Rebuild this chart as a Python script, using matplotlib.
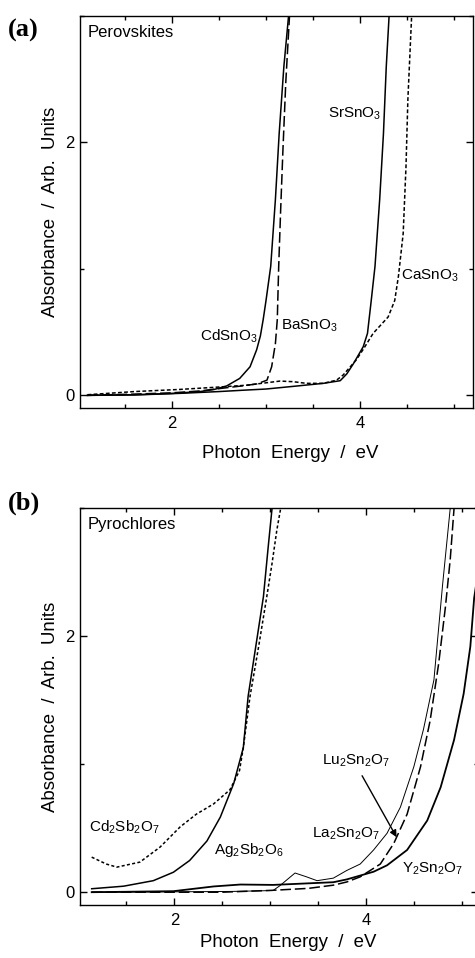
import matplotlib
matplotlib.use('Agg')
import matplotlib.pyplot as plt
from matplotlib.ticker import MultipleLocator

plt.rcParams['font.family'] = ['Liberation Sans', 'DejaVu Sans']
plt.rcParams['mathtext.fontset'] = 'custom'
plt.rcParams['mathtext.rm'] = 'Liberation Sans'
plt.rcParams['mathtext.it'] = 'Liberation Sans:italic'
plt.rcParams['mathtext.bf'] = 'Liberation Sans:bold'

# === (a) Perovskites: photon energy (eV) / absorbance ===
cdsno3_x = [1.1, 1.6, 2.0, 2.3, 2.45, 2.58, 2.72, 2.83, 2.90, 2.94, 2.97, 3.0, 3.05, 3.10, 3.14, 3.19, 3.24]
cdsno3_y = [0.0, 0.005, 0.015, 0.03, 0.047, 0.074, 0.134, 0.226, 0.36, 0.47, 0.6, 0.75, 1.02, 1.55, 2.07, 2.6, 3.0]

basno3_x = [1.1, 1.6, 2.0, 2.3, 2.61, 2.75, 2.90, 3.01, 3.06, 3.10, 3.12, 3.135, 3.155, 3.18, 3.21, 3.25]
basno3_y = [0.0, 0.01, 0.02, 0.035, 0.063, 0.075, 0.09, 0.12, 0.226, 0.41, 0.6, 1.02, 1.45, 1.94, 2.47, 3.0]

srsno3_x = [1.1, 1.6, 2.085, 2.5, 2.79, 3.0, 3.33, 3.61, 3.79, 3.86, 3.93, 4.035, 4.08, 4.12, 4.16, 4.21, 4.25, 4.28, 4.31]
srsno3_y = [0.0, 0.003, 0.016, 0.03, 0.042, 0.05, 0.074, 0.095, 0.116, 0.17, 0.25, 0.385, 0.49, 0.75, 1.02, 1.55, 2.07, 2.6, 3.0]

casno3_x = [1.1, 1.6, 2.085, 2.44, 2.79, 3.15, 3.29, 3.43, 3.61, 3.75, 3.82, 3.96, 4.04, 4.14, 4.30, 4.37, 4.41, 4.46, 4.49, 4.51, 4.55]
casno3_y = [0.005, 0.03, 0.047, 0.063, 0.08, 0.113, 0.108, 0.095, 0.095, 0.12, 0.16, 0.28, 0.37, 0.49, 0.62, 0.75, 0.945, 1.28, 1.81, 2.34, 3.0]

# === (b) Pyrochlores ===
cd2sb2o7_x = [1.137, 1.29, 1.40, 1.64, 1.85, 2.06, 2.23, 2.41, 2.58, 2.68, 2.72, 2.79, 2.88, 2.965, 3.02, 3.07, 3.11]
cd2sb2o7_y = [0.274, 0.22, 0.196, 0.235, 0.352, 0.51, 0.61, 0.69, 0.80, 0.95, 1.13, 1.53, 1.92, 2.31, 2.57, 2.83, 3.0]

ag2sb2o6_x = [1.137, 1.47, 1.78, 1.99, 2.16, 2.34, 2.48, 2.62, 2.72, 2.77, 2.85, 2.93, 2.98, 3.02]
ag2sb2o6_y = [0.027, 0.047, 0.09, 0.156, 0.248, 0.40, 0.587, 0.85, 1.13, 1.53, 1.92, 2.31, 2.7, 3.0]

la2sn2o7_x = [1.137, 2.0, 2.6, 3.03, 3.1, 3.26, 3.38, 3.49, 3.66, 3.80, 3.94, 4.08, 4.22, 4.36, 4.50, 4.60, 4.71, 4.80, 4.88]
la2sn2o7_y = [0.0, 0.003, 0.006, 0.013, 0.05, 0.15, 0.12, 0.09, 0.11, 0.17, 0.22, 0.33, 0.46, 0.665, 0.98, 1.27, 1.66, 2.4, 3.0]

lu2sn2o7_x = [1.137, 2.0, 2.5, 3.03, 3.4, 3.66, 3.8, 3.94, 4.15, 4.29, 4.43, 4.57, 4.67, 4.76, 4.83, 4.88, 4.92]
lu2sn2o7_y = [0.0, 0.0, 0.0, 0.015, 0.03, 0.055, 0.08, 0.12, 0.22, 0.38, 0.61, 0.98, 1.34, 1.79, 2.23, 2.6, 3.0]

y2sn2o7_x = [1.137, 1.99, 2.41, 2.69, 3.03, 3.66, 3.8, 3.94, 4.08, 4.22, 4.43, 4.64, 4.78, 4.92, 5.02, 5.09, 5.13, 5.17]
y2sn2o7_y = [0.0, 0.008, 0.045, 0.06, 0.057, 0.078, 0.1, 0.13, 0.16, 0.21, 0.33, 0.56, 0.82, 1.19, 1.55, 1.92, 2.3, 2.5]

W, H = 475, 958
fig = plt.figure(figsize=(W / 100, H / 100), dpi=100)
ax1 = fig.add_axes([80 / W, 1 - 408 / H, 392.7 / W, 392 / H])
ax2 = fig.add_axes([80 / W, 1 - 905 / H, 398 / W, 396.7 / H])

lw = 1.1
ax1.plot(cdsno3_x, cdsno3_y, 'k-', lw=lw)
ax1.plot(basno3_x, basno3_y, 'k-', lw=lw, dashes=(7, 2.5))
ax1.plot(srsno3_x, srsno3_y, 'k-', lw=lw)
ax1.plot(casno3_x, casno3_y, 'k-', lw=lw, dashes=(2.5, 1.5))

ax2.plot(cd2sb2o7_x, cd2sb2o7_y, 'k-', lw=lw, dashes=(2, 1.5))
ax2.plot(ag2sb2o6_x, ag2sb2o6_y, 'k-', lw=lw)
ax2.plot(la2sn2o7_x, la2sn2o7_y, 'k-', lw=0.7)
ax2.plot(lu2sn2o7_x, lu2sn2o7_y, 'k-', lw=lw, dashes=(7, 2.5))
ax2.plot(y2sn2o7_x, y2sn2o7_y, 'k-', lw=1.3)

fs = 11
ax1.text(3.66, 2.23, r'$\mathrm{SrSnO_3}$', fontsize=fs, va='center')
ax1.text(4.44, 0.945, r'$\mathrm{CaSnO_3}$', fontsize=fs, va='center')
ax1.text(2.30, 0.464, r'$\mathrm{CdSnO_3}$', fontsize=fs, va='center')
ax1.text(3.16, 0.55, r'$\mathrm{BaSnO_3}$', fontsize=fs, va='center')
ax1.text(0.02, 0.957, 'Perovskites', fontsize=12, va='center', transform=ax1.transAxes)

ax2.text(1.11, 0.51, r'$\mathrm{Cd_2Sb_2O_7}$', fontsize=fs, va='center')
ax2.text(2.41, 0.326, r'$\mathrm{Ag_2Sb_2O_6}$', fontsize=fs, va='center')
ax2.text(3.54, 1.03, r'$\mathrm{Lu_2Sn_2O_7}$', fontsize=fs, va='center')
ax2.text(3.435, 0.46, r'$\mathrm{La_2Sn_2O_7}$', fontsize=fs, va='center')
ax2.text(4.376, 0.18, r'$\mathrm{Y_2Sn_2O_7}$', fontsize=fs, va='center')
ax2.text(0.02, 0.958, 'Pyrochlores', fontsize=12, va='center', transform=ax2.transAxes)
ax2.annotate('', xy=(4.32, 0.43), xytext=(3.96, 0.91),
             arrowprops=dict(arrowstyle='-|>', color='k', lw=1.0,
                             mutation_scale=10, shrinkA=0, shrinkB=0))

for ax, xl, xlc, xly in [(ax1, (1.02, 5.2), 0.535, -0.094), (ax2, (1.015, 5.17), 0.523, -0.074)]:
    ax.set_xlim(*xl)
    ax.set_ylim(-0.1, 3.0)
    ax.xaxis.set_major_locator(MultipleLocator(2))
    ax.xaxis.set_minor_locator(MultipleLocator(0.5))
    ax.yaxis.set_major_locator(MultipleLocator(2))
    ax.yaxis.set_minor_locator(MultipleLocator(1))
    ax.tick_params(which='both', direction='in', top=True, right=True, width=1, labelsize=12)
    ax.tick_params(which='major', length=4.8)
    ax.tick_params(which='minor', length=2.6)
    ax.tick_params(axis='x', pad=6)
    ax.tick_params(axis='y', pad=4)
    for s in ax.spines.values():
        s.set_linewidth(1.0)
    ax.set_xlabel('Photon  Energy  /  eV', fontsize=13.4)
    ax.set_ylabel('Absorbance  /  Arb.  Units', fontsize=13.4)
    ax.xaxis.set_label_coords(xlc, xly)
    ax.yaxis.set_label_coords(-0.053, 0.5)

fig.text(8 / W, 1 - 30 / H, '(a)', fontsize=19, fontweight='bold',
         family='Liberation Serif', va='center')
fig.text(8 / W, 1 - 503 / H, '(b)', fontsize=19, fontweight='bold',
         family='Liberation Serif', va='center')

fig.savefig('out.png', dpi=100)
